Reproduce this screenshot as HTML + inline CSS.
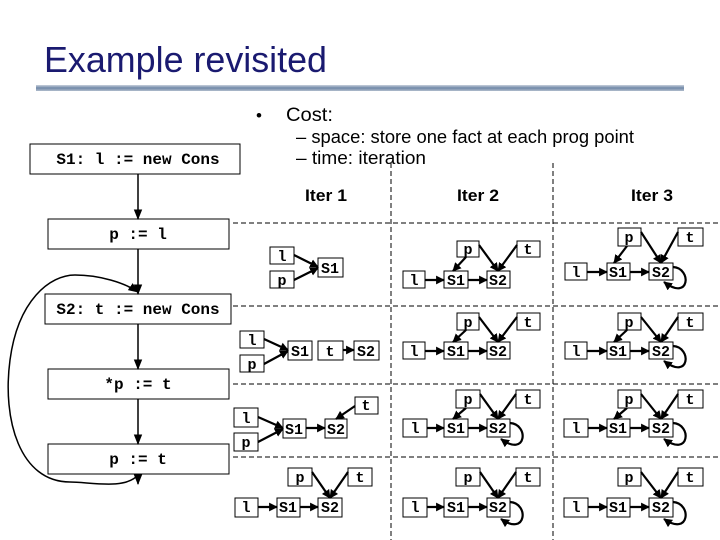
<!DOCTYPE html>
<html><head><meta charset="utf-8"><style>
html,body{margin:0;padding:0;background:#fff;}
svg{display:block;}
.m{font-family:"Liberation Mono",monospace;font-weight:bold;}
.n{font-size:15px;}
.s{font-family:"Liberation Sans",sans-serif;}
</style></head><body>
<svg width="720" height="540" viewBox="0 0 720 540" xmlns="http://www.w3.org/2000/svg">
<defs>
<marker id="a" viewBox="0 0 10 10" refX="9" refY="5" markerWidth="4" markerHeight="4" orient="auto"><path d="M0,0L10,5L0,10z" fill="#000"/></marker>
<marker id="b" viewBox="0 0 10 10" refX="9" refY="5" markerWidth="7" markerHeight="7" orient="auto"><path d="M0,1L10,5L0,9z" fill="#000"/></marker>
<linearGradient id="g" x1="0" y1="0" x2="0" y2="1"><stop offset="0" stop-color="#c8d0dc"/><stop offset="0.5" stop-color="#7088a8"/><stop offset="1" stop-color="#b0bccc"/></linearGradient>
</defs>
<text x="44" y="72" class="s" font-size="36" fill="#1a1a70" textLength="283" lengthAdjust="spacingAndGlyphs">Example revisited</text>
<rect x="36" y="85" width="648" height="6" fill="url(#g)"/>
<text x="256" y="121" class="s" font-size="17">•</text>
<text x="286" y="121" class="s" font-size="19" textLength="47" lengthAdjust="spacingAndGlyphs">Cost:</text>
<text x="296" y="143" class="s" font-size="18" textLength="338" lengthAdjust="spacingAndGlyphs">– space: store one fact at each prog point</text>
<text x="296" y="164" class="s" font-size="18" textLength="130" lengthAdjust="spacingAndGlyphs">– time: iteration</text>
<g class="s" font-size="17" font-weight="bold" text-anchor="middle">
<text x="326" y="201" textLength="42" lengthAdjust="spacingAndGlyphs">Iter 1</text><text x="478" y="201" textLength="42" lengthAdjust="spacingAndGlyphs">Iter 2</text><text x="652" y="201" textLength="42" lengthAdjust="spacingAndGlyphs">Iter 3</text></g>
<g stroke="#000" stroke-width="1" stroke-dasharray="5,3" fill="none">
<line x1="391" y1="163" x2="391" y2="540"/><line x1="553" y1="163" x2="553" y2="540"/>
<line x1="233" y1="223" x2="720" y2="223"/><line x1="233" y1="306" x2="720" y2="306"/>
<line x1="233" y1="384" x2="720" y2="384"/><line x1="233" y1="457" x2="720" y2="457"/>
</g>
<g fill="#fff" stroke="#000" stroke-width="1">
<rect x="30" y="144" width="210" height="30"/>
<rect x="48" y="219" width="181" height="30"/>
<rect x="45" y="294" width="186" height="30"/>
<rect x="48" y="369" width="181" height="30"/>
<rect x="48" y="444" width="181" height="30"/>
</g>
<g class="m" font-size="16" text-anchor="middle">
<text x="138" y="164">S1: l := new Cons</text>
<text x="138" y="239">p := l</text>
<text x="138" y="314">S2: t := new Cons</text>
<text x="138" y="389">*p := t</text>
<text x="138" y="464">p := t</text>
</g>
<g stroke="#000" stroke-width="1.5" fill="none" marker-end="url(#b)">
<line x1="138" y1="174" x2="138" y2="219"/>
<line x1="138" y1="249" x2="138" y2="294"/>
<line x1="138" y1="324" x2="138" y2="369"/>
<line x1="138" y1="399" x2="138" y2="444"/>
<line x1="138" y1="474" x2="138" y2="484"/>
<path d="M138,475 C125,490 90,482 70,482 C20,482 2,420 10,360 C18,300 50,275 75,275 C100,275 125,283 138,292"/>
</g>
<g fill="#fff" stroke="#000" stroke-width="1">
<rect x="270" y="247" width="24" height="17"/><rect x="270" y="271" width="24" height="17"/><rect x="318" y="258" width="25" height="19"/>
<rect x="457" y="241" width="22" height="16"/><rect x="517" y="241" width="23" height="16"/><rect x="403" y="271" width="22" height="17"/><rect x="444" y="271" width="24" height="17"/><rect x="487" y="271" width="23" height="17"/>
<rect x="618" y="228" width="23" height="18"/><rect x="678" y="228" width="25" height="18"/><rect x="565" y="263" width="22" height="17"/><rect x="607" y="263" width="23" height="17"/><rect x="649" y="263" width="24" height="17"/>
<rect x="240" y="331" width="24" height="17"/><rect x="240" y="355" width="24" height="17"/><rect x="288" y="341" width="24" height="19"/><rect x="318" y="341" width="25" height="19"/><rect x="354" y="341" width="25" height="19"/>
<rect x="457" y="313" width="22" height="17"/><rect x="517" y="313" width="23" height="17"/><rect x="403" y="342" width="22" height="17"/><rect x="444" y="342" width="24" height="17"/><rect x="487" y="342" width="23" height="17"/>
<rect x="618" y="313" width="23" height="17"/><rect x="678" y="313" width="25" height="17"/><rect x="565" y="342" width="22" height="17"/><rect x="607" y="342" width="23" height="17"/><rect x="649" y="342" width="24" height="17"/>
<rect x="234" y="408" width="24" height="19"/><rect x="234" y="433" width="24" height="18"/><rect x="283" y="419" width="23" height="19"/><rect x="325" y="419" width="22" height="19"/><rect x="355" y="397" width="23" height="17"/>
<rect x="456" y="390" width="24" height="18"/><rect x="516" y="390" width="24" height="18"/><rect x="403" y="419" width="24" height="18"/><rect x="444" y="419" width="24" height="18"/><rect x="487" y="419" width="23" height="18"/>
<rect x="618" y="390" width="23" height="18"/><rect x="678" y="390" width="25" height="18"/><rect x="564" y="419" width="24" height="18"/><rect x="607" y="419" width="23" height="18"/><rect x="649" y="419" width="24" height="18"/>
<rect x="288" y="468" width="24" height="18"/><rect x="348" y="468" width="24" height="18"/><rect x="235" y="498" width="23" height="19"/><rect x="277" y="498" width="23" height="19"/><rect x="318" y="498" width="24" height="19"/>
<rect x="456" y="468" width="24" height="18"/><rect x="516" y="468" width="24" height="18"/><rect x="403" y="498" width="24" height="19"/><rect x="444" y="498" width="24" height="19"/><rect x="487" y="498" width="23" height="19"/>
<rect x="618" y="468" width="23" height="18"/><rect x="678" y="468" width="25" height="18"/><rect x="564" y="498" width="24" height="19"/><rect x="607" y="498" width="23" height="19"/><rect x="649" y="498" width="24" height="19"/>
</g>
<g class="m n" text-anchor="middle">
<text x="282" y="261">l</text><text x="282" y="285">p</text><text x="330" y="273">S1</text>
<text x="468" y="254">p</text><text x="528" y="254">t</text><text x="414" y="285">l</text><text x="456" y="285">S1</text><text x="498" y="285">S2</text>
<text x="629" y="242">p</text><text x="690" y="242">t</text><text x="576" y="277">l</text><text x="618" y="277">S1</text><text x="661" y="277">S2</text>
<text x="252" y="345">l</text><text x="252" y="369">p</text><text x="300" y="356">S1</text><text x="330" y="356">t</text><text x="366" y="356">S2</text>
<text x="468" y="327">p</text><text x="528" y="327">t</text><text x="414" y="356">l</text><text x="456" y="356">S1</text><text x="498" y="356">S2</text>
<text x="629" y="327">p</text><text x="690" y="327">t</text><text x="576" y="356">l</text><text x="618" y="356">S1</text><text x="661" y="356">S2</text>
<text x="246" y="423">l</text><text x="246" y="447">p</text><text x="294" y="434">S1</text><text x="336" y="434">S2</text><text x="366" y="410">t</text>
<text x="468" y="404">p</text><text x="528" y="404">t</text><text x="415" y="433">l</text><text x="456" y="433">S1</text><text x="498" y="433">S2</text>
<text x="629" y="404">p</text><text x="690" y="404">t</text><text x="576" y="433">l</text><text x="618" y="433">S1</text><text x="661" y="433">S2</text>
<text x="300" y="482">p</text><text x="360" y="482">t</text><text x="246" y="512">l</text><text x="288" y="512">S1</text><text x="330" y="512">S2</text>
<text x="468" y="482">p</text><text x="528" y="482">t</text><text x="415" y="512">l</text><text x="456" y="512">S1</text><text x="498" y="512">S2</text>
<text x="629" y="482">p</text><text x="690" y="482">t</text><text x="576" y="512">l</text><text x="618" y="512">S1</text><text x="661" y="512">S2</text>
</g>
<g stroke="#000" stroke-width="2.2" fill="none" marker-end="url(#a)">
<line x1="294" y1="255" x2="318" y2="267"/><line x1="294" y1="280" x2="318" y2="268"/>
<line x1="425" y1="280" x2="444" y2="280"/><line x1="468" y1="280" x2="487" y2="280"/><line x1="466" y1="257" x2="453" y2="271"/><line x1="479" y1="245" x2="498" y2="271"/><line x1="517" y1="245" x2="498" y2="271"/>
<line x1="587" y1="272" x2="607" y2="272"/><line x1="630" y1="272" x2="649" y2="272"/><line x1="627" y1="246" x2="614" y2="263"/><line x1="641" y1="232" x2="661" y2="263"/><line x1="678" y1="232" x2="661" y2="263"/>
<path d="M673,267 C692,268 690,302 664,282"/>
<line x1="264" y1="339" x2="288" y2="350"/><line x1="264" y1="364" x2="288" y2="351"/><line x1="343" y1="350" x2="354" y2="350"/>
<line x1="425" y1="351" x2="444" y2="351"/><line x1="468" y1="351" x2="487" y2="351"/><line x1="466" y1="330" x2="453" y2="342"/><line x1="479" y1="317" x2="498" y2="342"/><line x1="517" y1="317" x2="498" y2="342"/>
<line x1="587" y1="351" x2="607" y2="351"/><line x1="630" y1="351" x2="649" y2="351"/><line x1="627" y1="330" x2="614" y2="342"/><line x1="641" y1="317" x2="661" y2="342"/><line x1="678" y1="317" x2="661" y2="342"/>
<path d="M673,346 C692,347 690,381 664,361"/>
<line x1="258" y1="417" x2="283" y2="428"/><line x1="258" y1="442" x2="283" y2="429"/><line x1="306" y1="428" x2="325" y2="428"/><line x1="355" y1="406" x2="336" y2="419"/>
<line x1="427" y1="428" x2="444" y2="428"/><line x1="468" y1="428" x2="487" y2="428"/><line x1="466" y1="408" x2="453" y2="419"/><line x1="480" y1="394" x2="498" y2="419"/><line x1="516" y1="394" x2="498" y2="419"/>
<path d="M510,423 C529,424 527,458 501,439"/>
<line x1="588" y1="428" x2="607" y2="428"/><line x1="630" y1="428" x2="649" y2="428"/><line x1="627" y1="408" x2="614" y2="419"/><line x1="641" y1="394" x2="661" y2="419"/><line x1="678" y1="394" x2="661" y2="419"/>
<path d="M673,423 C692,424 690,458 664,439"/>
<line x1="258" y1="507" x2="277" y2="507"/><line x1="300" y1="507" x2="318" y2="507"/><line x1="312" y1="472" x2="330" y2="498"/><line x1="348" y1="472" x2="330" y2="498"/>
<line x1="427" y1="507" x2="444" y2="507"/><line x1="468" y1="507" x2="487" y2="507"/><line x1="480" y1="472" x2="498" y2="498"/><line x1="516" y1="472" x2="498" y2="498"/>
<path d="M510,502 C529,503 527,537 501,519"/>
<line x1="588" y1="507" x2="607" y2="507"/><line x1="630" y1="507" x2="649" y2="507"/><line x1="641" y1="472" x2="661" y2="498"/><line x1="678" y1="472" x2="661" y2="498"/>
<path d="M673,502 C692,503 690,537 664,519"/>
</g>
</svg>
</body></html>
